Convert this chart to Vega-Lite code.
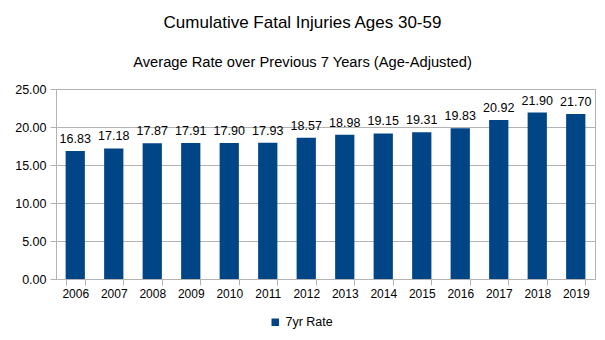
{
  "$schema": "https://vega.github.io/schema/vega-lite/v6.json",
  "width": 539,
  "height": 190,
  "autosize": {"type": "none"},
  "padding": {"left": 56, "top": 89, "right": 10, "bottom": 61},
  "background": "white",
  "config": {
    "font": "Liberation Sans",
    "view": {"stroke": "#b3b3b3", "strokeWidth": 1}
  },
  "title": {
    "text": "Cumulative Fatal Injuries Ages 30-59",
    "subtitle": "Average Rate over Previous 7 Years (Age-Adjusted)",
    "font": "Liberation Sans",
    "subtitleFont": "Liberation Sans",
    "fontSize": 17,
    "subtitleFontSize": 14.7,
    "fontWeight": "normal",
    "color": "black",
    "subtitleColor": "black",
    "anchor": "middle",
    "dx": -23,
    "offset": 12,
    "subtitlePadding": 23
  },
  "data": {
    "values": [
      {"year": "2006", "rate": 16.83, "series": "7yr Rate"},
      {"year": "2007", "rate": 17.18, "series": "7yr Rate"},
      {"year": "2008", "rate": 17.87, "series": "7yr Rate"},
      {"year": "2009", "rate": 17.91, "series": "7yr Rate"},
      {"year": "2010", "rate": 17.90, "series": "7yr Rate"},
      {"year": "2011", "rate": 17.93, "series": "7yr Rate"},
      {"year": "2012", "rate": 18.57, "series": "7yr Rate"},
      {"year": "2013", "rate": 18.98, "series": "7yr Rate"},
      {"year": "2014", "rate": 19.15, "series": "7yr Rate"},
      {"year": "2015", "rate": 19.31, "series": "7yr Rate"},
      {"year": "2016", "rate": 19.83, "series": "7yr Rate"},
      {"year": "2017", "rate": 20.92, "series": "7yr Rate"},
      {"year": "2018", "rate": 21.90, "series": "7yr Rate"},
      {"year": "2019", "rate": 21.70, "series": "7yr Rate"}
    ]
  },
  "encoding": {
    "x": {
      "field": "year",
      "type": "ordinal",
      "scale": {"paddingInner": 0.5, "paddingOuter": 0.25},
      "axis": {
        "title": null,
        "labelAngle": 0,
        "labelFontSize": 12,
        "labelColor": "black",
        "labelPadding": 3,
        "tickBand": "extent",
        "tickSize": 6,
        "tickColor": "#b3b3b3",
        "domainColor": "#b3b3b3",
        "grid": false
      }
    },
    "y": {
      "field": "rate",
      "type": "quantitative",
      "scale": {"domain": [0, 25], "nice": false},
      "axis": {
        "title": null,
        "values": [0, 5, 10, 15, 20, 25],
        "format": ".2f",
        "labelFontSize": 12.5,
        "labelColor": "black",
        "labelPadding": 4,
        "tickSize": 6,
        "tickColor": "#b3b3b3",
        "domainColor": "#b3b3b3",
        "gridColor": "#b3b3b3"
      }
    }
  },
  "layer": [
    {
      "mark": {"type": "bar"},
      "encoding": {
        "color": {
          "field": "series",
          "type": "nominal",
          "scale": {"range": ["#004586"]},
          "legend": {
            "title": null,
            "orient": "none",
            "legendX": 213,
            "legendY": 227,
            "symbolType": "square",
            "symbolSize": 56,
            "symbolStrokeWidth": 0,
            "labelFontSize": 12.5,
            "labelColor": "black",
            "labelOffset": 4
          }
        }
      }
    },
    {
      "mark": {"type": "text", "baseline": "bottom", "dy": -5, "fontSize": 12.5, "color": "black"},
      "encoding": {
        "text": {"field": "rate", "type": "quantitative", "format": ".2f"}
      }
    }
  ]
}
